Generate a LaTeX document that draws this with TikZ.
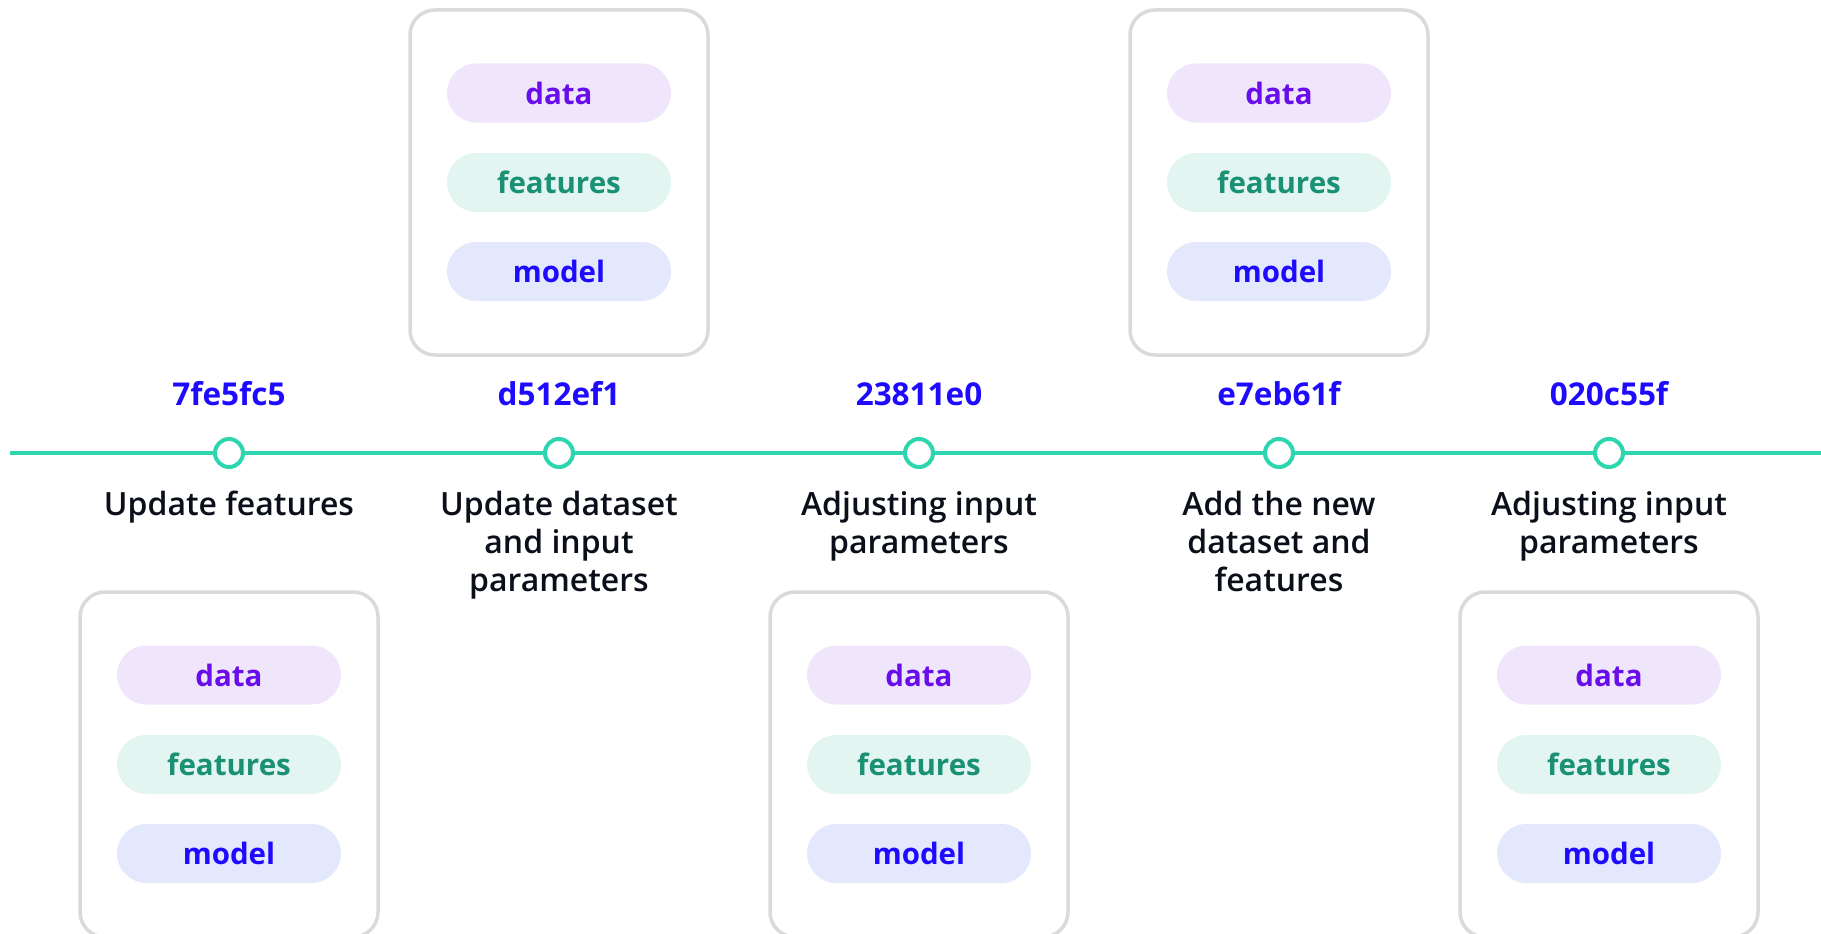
\documentclass[tikz,border=0pt]{standalone}
\usepackage{fontspec}
\setmainfont{Open Sans}
\newfontfamily\descfont{Open Sans Semibold}
\definecolor{tlteal}{HTML}{2DD6AE}
\definecolor{hashblue}{HTML}{1E0BFF}
\definecolor{dataink}{HTML}{6A0DEB}
\definecolor{datafill}{HTML}{F0E6FC}
\definecolor{featink}{HTML}{1A9075}
\definecolor{featfill}{HTML}{E3F5F0}
\definecolor{modelink}{HTML}{1E0BFF}
\definecolor{modelfill}{HTML}{E4E8FD}
\definecolor{boxline}{HTML}{DADADA}
\definecolor{descink}{HTML}{0B0F1A}
\tikzset{
  timeline/.style={draw=tlteal, line width=4pt},
  commitdot/.style={circle, draw=tlteal, fill=white, line width=4pt, minimum size=28pt, inner sep=0pt},
  hashlabel/.style={font=\fontsize{31.5}{36}\selectfont\bfseries, text=hashblue, inner sep=0pt, anchor=base},
  desclabel/.style={font=\descfont\fontsize{32}{38}\selectfont, text=descink, align=center, inner sep=0pt, anchor=north},
  snapbox/.style={rectangle, draw=boxline, line width=3.5pt, rounded corners=25pt, minimum width=298pt, minimum height=345pt, fill=white, inner sep=0pt},
  pill/.style={rectangle, rounded corners=29.5pt, minimum width=224pt, minimum height=59pt, inner sep=0pt, font=\fontsize{29.5}{34}\selectfont\bfseries},
  datapill/.style={pill, fill=datafill, text=dataink},
  featpill/.style={pill, fill=featfill, text=featink},
  modelpill/.style={pill, fill=modelfill, text=modelink},
}
% a snapshot card: frame plus its three component pills
\newcommand{\snapcard}[3]{%
  \node[snapbox] (#1) at (#2,#3+172.5) {};
  \node[datapill] (#1-data) at (#2,#3+83) {data};
  \node[featpill] (#1-feat) at (#2,#3+172.5) {features};
  \node[modelpill] (#1-model) at (#2,#3+261.5) {model};
}
\begin{document}
\begin{tikzpicture}[x=1pt,y=-1pt]
\useasboundingbox (0,0) rectangle (1821,934);
\fill[white] (0,0) rectangle (1821,934);

% commit points on the timeline
\coordinate (tlstart) at (10,453);
\coordinate (tlend) at (1821,453);
\node[commitdot] (c1) at (229,453) {};
\node[commitdot] (c2) at (559,453) {};
\node[commitdot] (c3) at (919,453) {};
\node[commitdot] (c4) at (1279,453) {};
\node[commitdot] (c5) at (1609,453) {};
\draw[timeline] (tlstart) -- (c1) -- (c2) -- (c3) -- (c4) -- (c5) -- (tlend);

% commit hashes
\node[hashlabel] (h1) at (229,405) {7fe5fc5};
\node[hashlabel] (h2) at (559,405) {d512ef1};
\node[hashlabel] (h3) at (919,405) {23811e0};
\node[hashlabel] (h4) at (1279,405) {e7eb61f};
\node[hashlabel] (h5) at (1609,405) {020c55f};

% commit messages
\node[desclabel] (d1) at (229,491) {Update features};
\node[desclabel] (d2) at (559,491) {Update dataset\\and input\\parameters};
\node[desclabel] (d3) at (919,491) {Adjusting input\\parameters};
\node[desclabel] (d4) at (1279,491) {Add the new\\dataset and\\features};
\node[desclabel] (d5) at (1609,491) {Adjusting input\\parameters};

% snapshot cards above and below the timeline
\snapcard{s2}{559}{10}
\snapcard{s4}{1279}{10}
\snapcard{s1}{229}{592}
\snapcard{s3}{919}{592}
\snapcard{s5}{1609}{592}
\end{tikzpicture}
\end{document}
